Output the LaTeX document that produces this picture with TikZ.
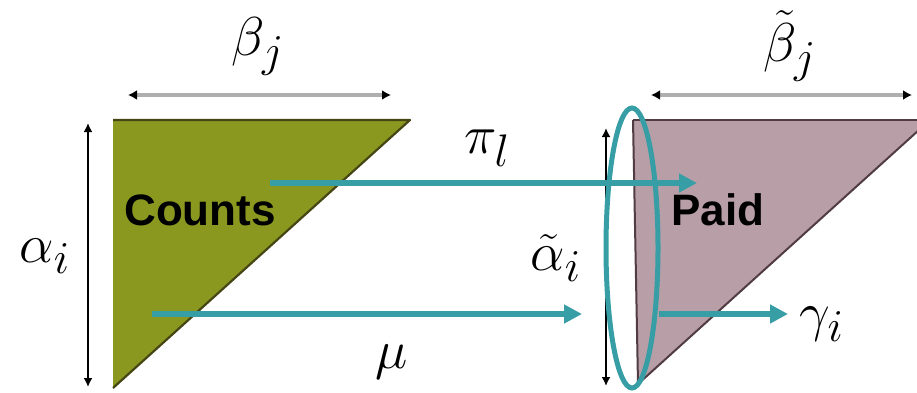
\documentclass[tikz,border=0pt]{standalone}
\usepackage{graphicx}
\usepackage{fontspec}
\setsansfont{Liberation Sans}
\usetikzlibrary{arrows.meta,shapes.geometric}
\definecolor{olive}{RGB}{138,152,32}
\definecolor{oliveedge}{RGB}{70,70,20}
\definecolor{mauve}{RGB}{184,158,166}
\definecolor{mauveedge}{RGB}{80,60,66}
\definecolor{teal}{RGB}{56,158,165}
\definecolor{dimgrey}{RGB}{175,175,175}
\newcommand{\mymath}[1]{\scalebox{2.2}{\Huge$#1$}}
\tikzset{
  flow/.style={teal, line width=5.5pt, -{Triangle[length=18pt,width=18pt]}},
  dimline/.style={dimgrey, line width=4pt, {Latex[black,length=9pt,width=10pt]}-{Latex[black,length=9pt,width=10pt]}},
  vdim/.style={black, line width=1.8pt, {Latex[length=9pt,width=9pt]}-{Latex[length=9pt,width=9pt]}},
  mlabel/.style={inner sep=0pt},
  blabel/.style={font=\fontsize{44}{50}\selectfont\sffamily\bfseries, inner sep=0pt},
}
\begin{document}
\begin{tikzpicture}[x=1pt,y=-1pt]
\useasboundingbox (0,0) rectangle (917,393);
% triangles
\coordinate (L1) at (113,120);
\coordinate (L2) at (410,120);
\coordinate (L3) at (113,388);
\fill[olive] (L1) -- (L2) -- (L3) -- cycle;
\draw[oliveedge, line width=2.2pt, line join=round] (L1) -- (L2) -- (L3);
\coordinate (R1) at (633,120);
\coordinate (R2) at (930,120);
\coordinate (R3) at (638,384);
\fill[mauve] (R1) -- (R2) -- (R3) -- cycle;
\draw[mauveedge, line width=2.2pt] (R1) -- (R2);
\draw[mauveedge, line width=2pt] (R3) -- (R2);
\draw[mauveedge, line width=2pt] (R1) -- (R3);
% dimension arrows
\coordinate (bl) at (128,95);
\coordinate (br) at (391,95);
\draw[dimline] (bl) -- (br);
\coordinate (btl) at (651,95);
\coordinate (btr) at (912,95);
\draw[dimline] (btl) -- (btr);
\coordinate (at) at (88,123);
\coordinate (ab) at (88,387);
\draw[vdim] (at) -- (ab);
\coordinate (rt) at (606,128);
\coordinate (rb) at (606,386);
\draw[vdim] (rt) -- (rb);
% texts
\node[blabel] (counts) at (200,210) {Counts};
\node[blabel] (paid) at (718,210) {Paid};
\node[mlabel] (beta) at (258,46) {\mymath{\beta_j}};
\node[mlabel] (betat) at (790,46) {\mymath{\tilde\beta_j}};
\node[mlabel] (alpha) at (45,256) {\mymath{\alpha_i}};
\node[mlabel] (alphat) at (556,258) {\mymath{\tilde\alpha_i}};
\node[mlabel] (pi) at (487,148) {\mymath{\pi_l}};
\node[mlabel] (mu) at (392,362) {\mymath{\mu}};
\node[mlabel] (gamma) at (822,324) {\mymath{\gamma_i}};
% ellipse
\node[draw=teal, line width=5pt, ellipse, minimum width=52pt, minimum height=280pt, inner sep=0pt] (ell) at (632,248) {};
% flows
\coordinate (ps) at (270,183);
\coordinate (pe) at (697,183);
\draw[flow] (ps) -- (pe);
\coordinate (ms) at (152,314);
\coordinate (me) at (582,314);
\draw[flow] (ms) -- (me);
\coordinate (gs) at (659,314);
\coordinate (ge) at (788,314);
\draw[flow] (gs) -- (ge);
\end{tikzpicture}
\end{document}
